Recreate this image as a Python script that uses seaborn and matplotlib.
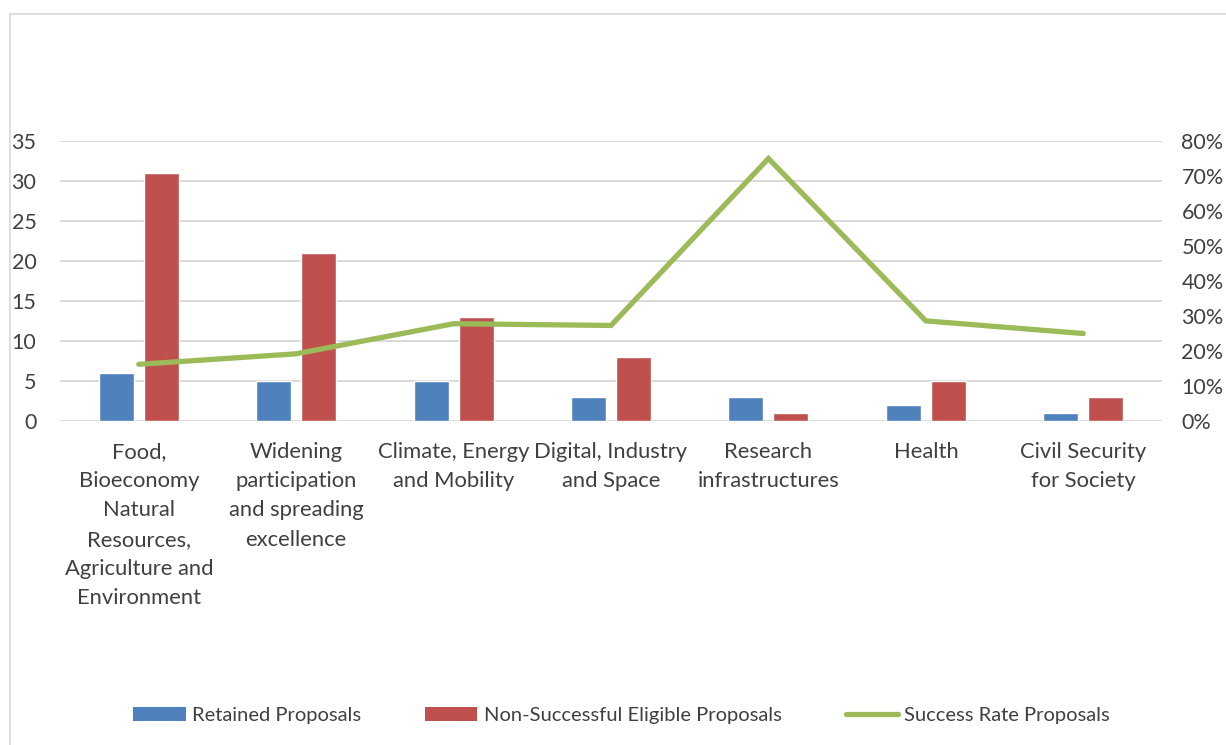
import numpy as np
import pandas as pd
import matplotlib
matplotlib.use("Agg")
import matplotlib.pyplot as plt
from matplotlib.patches import Rectangle, Patch
from matplotlib.lines import Line2D
from matplotlib.ticker import PercentFormatter
import seaborn as sns

categories = [
    "Food,\nBioeconomy\nNatural\nResources,\nAgriculture and\nEnvironment",
    "Widening\nparticipation\nand spreading\nexcellence",
    "Climate, Energy\nand Mobility",
    "Digital, Industry\nand Space",
    "Research\ninfrastructures",
    "Health",
    "Civil Security\nfor Society",
]
retained = [6, 5, 5, 3, 3, 2, 1]
non_successful = [31, 21, 13, 8, 1, 5, 3]
success_rate = [0.162, 0.192, 0.278, 0.273, 0.75, 0.286, 0.25]

series_names = ["Retained Proposals", "Non-Successful Eligible Proposals", "Success Rate Proposals"]
colors = ["#4F81BD", "#C0504D", "#9BBB59"]

sns.set_theme(style="white")
plt.rcParams["font.family"] = ["Lato", "DejaVu Sans"]

df = pd.DataFrame({
    "category": categories * 2,
    "value": retained + non_successful,
    "series": [series_names[0]] * len(categories) + [series_names[1]] * len(categories),
})

fig = plt.figure(figsize=(12.26, 7.45), dpi=100)
ax = fig.add_axes([0.0490, 0.4349, 0.8988, 0.3758])

sns.barplot(data=df, x="category", y="value", hue="series", order=categories,
            hue_order=series_names[:2], palette=colors[:2], width=0.572, gap=0.224,
            saturation=1, ax=ax, legend=False, zorder=3)

ax.set_ylim(0, 35)
ax.set_xlim(-0.5, len(categories) - 0.5)
ax.set_yticks(np.arange(0, 36, 5))
ax.grid(axis="y", color="#D9D9D9", linewidth=1.4, zorder=0)
ax.set_axisbelow(True)
for s in ax.spines.values():
    s.set_visible(False)
ax.set_xlabel("")
ax.set_ylabel("")
ax.tick_params(axis="y", length=0, pad=17, labelsize=15.5, labelcolor="#404040")
ax.tick_params(axis="x", length=0, pad=15, labelsize=15.8, labelcolor="#404040")
for lbl in ax.get_xticklabels():
    lbl.set_linespacing(1.58)
    lbl.set_verticalalignment("top")

ax2 = ax.twinx()
sns.lineplot(x=np.arange(len(categories)), y=success_rate, ax=ax2, color=colors[2],
             linewidth=3.8, solid_capstyle="round", solid_joinstyle="miter", zorder=4)
ax2.set_ylim(0, 0.8)
ax2.set_yticks(np.arange(0, 0.81, 0.1))
ax2.yaxis.set_major_formatter(PercentFormatter(1.0, decimals=0))
ax2.tick_params(axis="y", length=0, pad=14, labelsize=15.5, labelcolor="#404040")
for s in ax2.spines.values():
    s.set_visible(False)
ax2.grid(False)
ax2.set_ylabel("")

handles = [
    Patch(facecolor=colors[0], edgecolor="none"),
    Patch(facecolor=colors[1], edgecolor="none"),
    Line2D([0], [0], color=colors[2], linewidth=3.8, solid_capstyle="round"),
]
fig.legend(handles, series_names, loc="center", bbox_to_anchor=(0.507, 0.04), ncol=3,
           frameon=False, fontsize=14.5, labelcolor="#404040", handlelength=2.6,
           handleheight=0.7, handletextpad=0.3, columnspacing=3.2)

fig.patches.append(Rectangle((10 / 1226, -0.1), 1.2, 0.1 + (745 - 14) / 745,
                             transform=fig.transFigure, fill=False,
                             edgecolor="#D9D9D9", linewidth=1.2, zorder=0))

fig.savefig("out.png", dpi=100)
